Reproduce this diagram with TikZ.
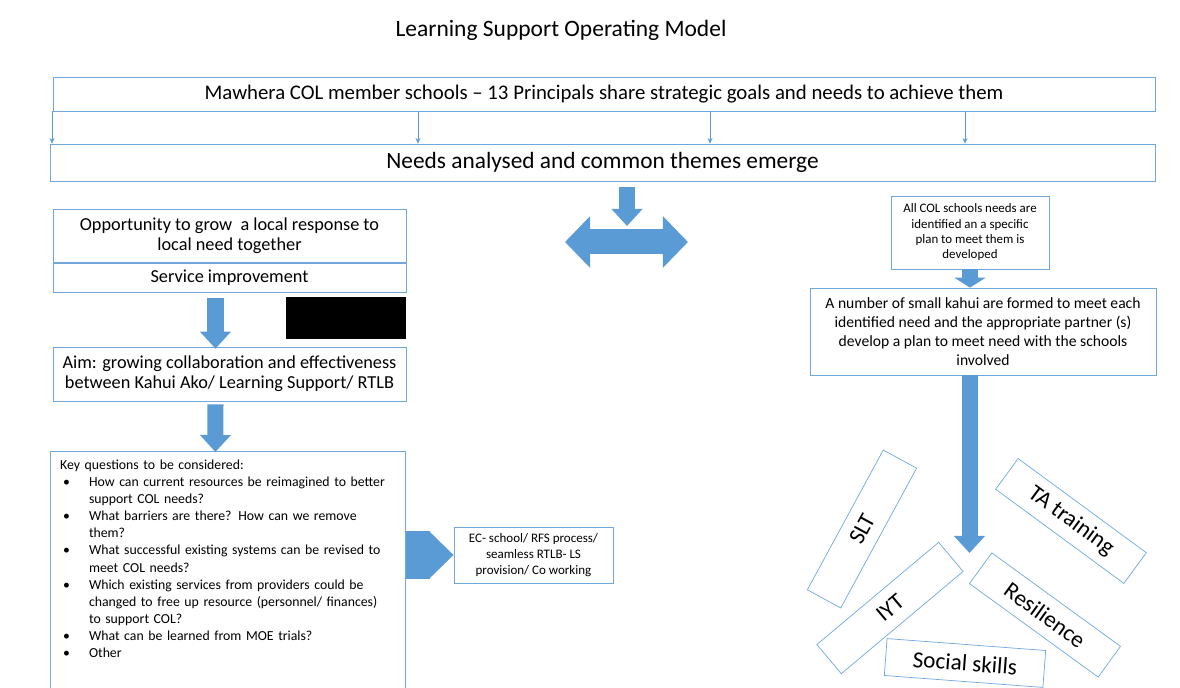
\documentclass[tikz,border=0pt]{standalone}
\usepackage{fontspec}
\setmainfont{Carlito}
\usetikzlibrary{arrows.meta,calc}

\definecolor{arrowblue}{RGB}{91,155,213}
\definecolor{boxline}{RGB}{112,168,222}

\tikzset{
    box/.style={draw=boxline, line width=0.5pt, fill=white, align=center, inner sep=0pt},
    tilted/.style={box, minimum width=3.975cm, minimum height=0.95cm, font=\fontsize{16.5}{19}\selectfont},
    blockarrow/.style={draw=arrowblue, line width=0.4cm, -{Triangle[width=0.75cm,length=0.425cm]}},
    twoway/.style={draw=arrowblue, line width=0.625cm,
        {Triangle[width=1.25cm,length=0.625cm]}-{Triangle[width=1.25cm,length=0.625cm]}},
    homeplate/.style={draw=arrowblue, line width=1.175cm, -{Triangle[width=1.175cm,length=0.625cm]}},
    thinarrow/.style={draw=arrowblue, line width=0.4pt, -{Stealth[length=4pt,width=3.5pt]}},
}

\newcommand{\kqitem}[1]{\par\hangindent=20.5pt\hangafter=1\noindent\makebox[20.5pt][l]{\hspace{2pt}\textbullet}#1}

\begin{document}
\begin{tikzpicture}[x=0.025cm, y=-0.025cm]
    \useasboundingbox (0,0) rectangle (1180,688);
    \clip (0,0) rectangle (1180,688);

    % Title
    \node[font=\fontsize{16.7}{19}\selectfont] (title) at (561,30.5) {Learning Support Operating Model};

    % TOP: principals and themes
    \node[box, minimum width=27.55cm, minimum height=0.85cm, font=\fontsize{14.8}{17}\selectfont]
        (principals) at (604,94) {Mawhera COL member schools – 13 Principals share strategic goals and needs to achieve them};
    \node[box, minimum width=27.625cm, minimum height=0.925cm, font=\fontsize{16.6}{19}\selectfont]
        (themes) at (602.5,162.5) {Needs analysed and common themes emerge};
    \foreach \x in {52,418,710,965}
        \draw[thinarrow] (\x,0 |- principals.south) -- (\x,0 |- themes.north);

    % LEFT: local response
    \begin{scope}[every node/.append style={font=\fontsize{13}{14.5}\selectfont}]
        \node[box, minimum width=8.825cm, minimum height=1.325cm] (opportunity) at (229.5,235.5)
            {Opportunity to grow\ \ a local response to\\local need together};
        \node[box, minimum width=8.825cm, minimum height=0.725cm] (service) at (229.5,277.5)
            {Service improvement};
        \node[box, minimum width=8.825cm, minimum height=1.35cm] (aim) at (229.5,374)
            {Aim: growing collaboration and effectiveness\\between Kahui Ako/ Learning Support/ RTLB};
    \end{scope}
    \fill[black] (286,297) rectangle (406,339);

    \node[box, anchor=north west, align=left, inner xsep=7pt, inner ysep=5.8pt, text width=238.5pt,
          font=\fontsize{9.8}{12.2}\selectfont] (keyq) at (50,451)
        {Key questions to be considered:
         \kqitem{How can current resources be reimagined to better\newline support COL needs?}
         \kqitem{What barriers are there? How can we remove\newline them?}
         \kqitem{What successful existing systems can be revised to\newline meet COL needs?}
         \kqitem{Which existing services from providers could be\newline changed to free up resource (personnel/ finances)\newline to support COL?}
         \kqitem{What can be learned from MOE trials?}
         \kqitem{Other}
         \par\noindent\rule{0pt}{45pt}};

    \draw[blockarrow] ($(service.south)+(-14,6)$) -- ($(aim.north)+(-14,2)$);
    \draw[blockarrow] ($(aim.south)+(-14,3)$) -- ($(keyq.north)+(-12.5,1)$);

    \node[box, minimum width=3.975cm, minimum height=1.4cm, font=\fontsize{9.25}{11.4}\selectfont]
        (provision) at (533.5,555) {EC- school/ RFS process/\\seamless RTLB- LS\\provision/ Co working};
    \draw[homeplate] (provision.west -| keyq.east) -- (provision.west);

    % CENTRE: shared response
    \coordinate (share) at (627,226);
    \coordinate (spreadL) at (565,242);
    \coordinate (spreadR) at (688,242);
    \draw[blockarrow] ($(themes.south -| share)+(0,6)$) -- (share);
    \draw[twoway] (spreadL) -- (spreadR);

    % RIGHT: kahui
    \node[box, minimum width=3.95cm, minimum height=1.825cm, font=\fontsize{9.2}{10.9}\selectfont]
        (allneeds) at (970,232.5) {All COL schools needs are\\identified an a specific\\plan to meet them is\\developed};
    \node[box, minimum width=8.65cm, minimum height=2.175cm, font=\fontsize{11.1}{13.5}\selectfont]
        (kahui) at (983,331.5) {A number of small kahui are formed to meet each\\identified need and the appropriate partner (s)\\develop a plan to meet need with the schools\\involved};
    \draw[blockarrow, -{Triangle[width=0.775cm,length=0.25cm]}] (allneeds.south) -- (allneeds.south |- kahui.north);

    \coordinate (fan) at (969.5,553);
    \draw[blockarrow] (kahui.south -| fan) -- (fan);

    % Tilted kahui boxes
    \node[tilted, rotate=61.5] (slt) at (862,529) {SLT};
    \node[tilted, rotate=-36.3] (ta) at (1071,521) {TA training};
    \node[tilted, rotate=40] (iyt) at (890,608) {IYT};
    \node[tilted, rotate=-36] (resilience) at (1045,615) {Resilience};
    \node[tilted, rotate=-4.3, minimum height=0.925cm] (social) at (965,663) {Social skills};
\end{tikzpicture}
\end{document}
